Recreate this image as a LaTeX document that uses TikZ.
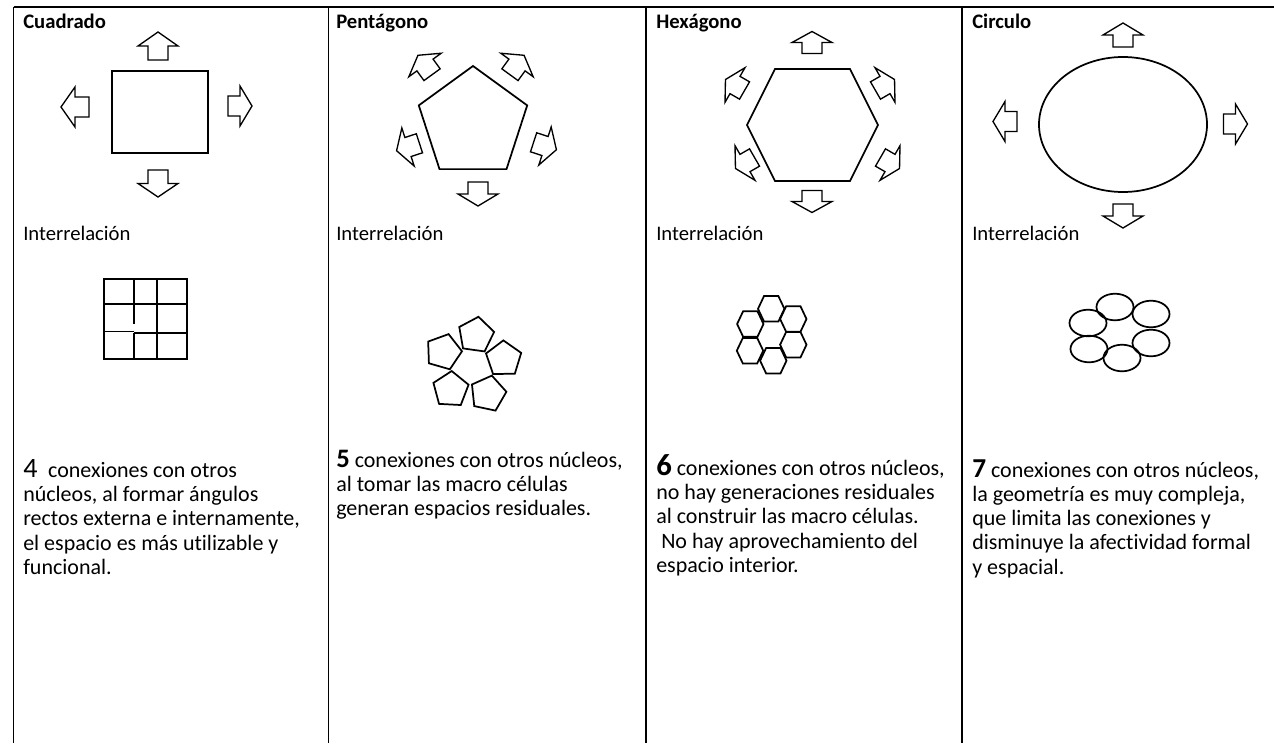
\documentclass[tikz,border=0pt]{standalone}
\usepackage{fontspec}
\setmainfont{Carlito}[Ligatures=NoCommon]
\begin{document}
\begin{tikzpicture}[x=0.75pt,y=-0.75pt,
  tabline/.style={line width=0.8pt},
  shapeline/.style={line width=1.3pt,line join=miter},
  cellline/.style={line width=1.4pt},
  arrline/.style={line width=1pt,line join=miter},
  txt/.style={anchor=base west,inner sep=0pt,font=\fontsize{16.5}{19.7}\selectfont},
  lab/.style={anchor=base west,inner sep=0pt,font=\fontsize{15.5}{18}\selectfont},
  head/.style={anchor=base west,inner sep=0pt,font=\fontsize{15.5}{18}\selectfont\bfseries},
  pics/barrow/.style={code={\draw[arrline] (-#1,-10) -- (0,-10) -- (0,-20) -- (#1,0) -- (0,20) -- (0,10) -- (-#1,10) -- cycle;}},
  pics/pent/.style n args={2}{code={\draw[shapeline] (-90-#2:#1) -- (-18-#2:#1) -- (54-#2:#1) -- (126-#2:#1) -- (198-#2:#1) -- cycle;}},
  pics/hexa/.style n args={3}{code={\draw[shapeline] (-#1,0) -- (-#2,-#3) -- (#2,-#3) -- (#1,0) -- (#2,#3) -- (-#2,#3) -- cycle;}},
]
\useasboundingbox (0,0) rectangle (1274,743);
\fill[white] (0,0) rectangle (1274,743);

% table lines
\draw[tabline] (13.5,7) -- (1274,7);
\draw[tabline] (13.5,7) -- (13.5,743);
\draw[tabline] (328.5,7) -- (328.5,743);
\draw[tabline] (646,7) -- (646,743);
\draw[tabline] (962,7) -- (962,743);

% headings
\node[head] (h1) at (23,28) {Cuadrado};
\node[head] (h2) at (336,28) {Pentágono};
\node[head] (h3) at (656,28) {Hexágono};
\node[head] (h4) at (972,28) {Circulo};

% ---- column 1: square
\draw[shapeline] (112,71) rectangle (208,153);
\pic[rotate=90]  at (158,46)    {barrow=14};
\pic[rotate=180] at (75,107)    {barrow=14};
\pic[rotate=0]   at (240,106)   {barrow=12};
\pic[rotate=270] at (158,183.5) {barrow=13.5};

% ---- column 2: pentagon
\pic at (473,123) {pent={57}{0}};
\pic[rotate=270] at (478,194) {barrow=12};
\pic[rotate=126] at (425,65)  {barrow=12};
\pic[rotate=54]  at (517,65)  {barrow=12};
\pic[rotate=198] at (408,147) {barrow=12};
\pic[rotate=342] at (545,146) {barrow=12};

% ---- column 3: hexagon
\pic at (812.5,125) {hexa={65.5}{37.5}{56}};
\pic[rotate=90]  at (812,42.5)  {barrow=11};
\pic[rotate=270] at (812,201.5) {barrow=11};
\pic[rotate=150] at (735,85)    {barrow=11};
\pic[rotate=30]  at (885,85)    {barrow=11};
\pic[rotate=210] at (745,163)   {barrow=11};
\pic[rotate=330] at (890,163)   {barrow=11};

% ---- column 4: ellipse
\draw[shapeline] (1123,124.5) ellipse [x radius=84, y radius=67.5];
\pic[rotate=90]  at (1123,35)    {barrow=12};
\pic[rotate=180] at (1005,121.5) {barrow=12};
\pic[rotate=0]   at (1235.5,124) {barrow=12};
\pic[rotate=270] at (1123,216)   {barrow=12};

% Interrelación labels
\node[lab] (i1) at (23,240) {Interrelación};
\node[lab] (i2) at (336,240) {Interrelación};
\node[lab] (i3) at (656,240) {Interrelación};
\node[lab] (i4) at (972,240) {Interrelación};

% ---- patterns
% grid
\draw[cellline] (104,279) rectangle (187,359);
\draw[cellline] (157,279) -- (157,359);
\draw[cellline] (134,279) -- (134,304);
\draw[line width=0.9pt] (134,304) -- (134,324);
\draw[cellline] (134,333) -- (134,359);
\draw[cellline] (104,304) -- (187,304);
\draw[cellline] (134,333) -- (187,333);
\draw[cellline] (104,331.5) -- (134,331.5);

% pentagons
\pic at (475.9,335.1) {pent={18.5}{-8}};
\pic at (443.5,351.9) {pent={18.5}{-16}};
\pic at (503.7,358.9) {pent={18.5}{1}};
\pic at (450.7,389.5) {pent={18.5}{-3}};
\pic at (488,393.7)   {pent={18.5}{-12}};

% hexagons
\pic at (771.2,308.8) {hexa={13.2}{7.2}{12.7}};
\pic at (793.3,319)   {hexa={13.2}{7.2}{12.7}};
\pic at (750.3,324)   {hexa={13.2}{7.2}{12.7}};
\pic at (750,350.7)   {hexa={13.2}{7.2}{12.7}};
\pic at (773.3,360.7) {hexa={13.2}{7.2}{12.7}};
\pic at (793.3,344.7) {hexa={13.2}{7.2}{12.7}};

% ellipses
\foreach \p in {(1115,307),(1088,323),(1089,349),(1122,358),(1151,314),(1151,343)}
  \draw[shapeline] \p ellipse [x radius=18.5, y radius=13.3];

% ---- texts
\node[txt] (t1a) at (23,477) {{\fontsize{21}{22}\selectfont 4}\hspace{8pt}conexiones con otros};
\node[txt] (t1b) at (23,501.5) {núcleos, al formar ángulos};
\node[txt] (t1c) at (23,525.8) {rectos externa e internamente,};
\node[txt] (t1d) at (23,550.1) {el espacio es más utilizable y};
\node[txt] (t1e) at (23,574.4) {funcional.};

\node[txt] (t2a) at (336,467) {{\fontsize{20}{22}\selectfont\bfseries 5} conexiones con otros núcleos,};
\node[txt] (t2b) at (336,491.3) {al tomar las macro células};
\node[txt] (t2c) at (336,515.6) {generan espacios residuales.};

\node[txt] (t3a) at (656,475) {{\fontsize{23}{25}\selectfont\bfseries 6} conexiones con otros núcleos,};
\node[txt] (t3b) at (656,499.5) {no hay generaciones residuales};
\node[txt] (t3c) at (656,523.8) {al construir las macro células.};
\node[txt] (t3d) at (661,548.1) {No hay aprovechamiento del};
\node[txt] (t3e) at (656,572.4) {espacio interior.};

\node[txt] (t4a) at (972,477) {{\fontsize{20.5}{22}\selectfont\bfseries 7} conexiones con otros núcleos,};
\node[txt] (t4b) at (972,501.3) {la geometría es muy compleja,};
\node[txt] (t4c) at (972,525.6) {que limita las conexiones y};
\node[txt] (t4d) at (972,549.9) {disminuye la afectividad formal};
\node[txt] (t4e) at (972,574.2) {y espacial.};
\end{tikzpicture}
\end{document}
